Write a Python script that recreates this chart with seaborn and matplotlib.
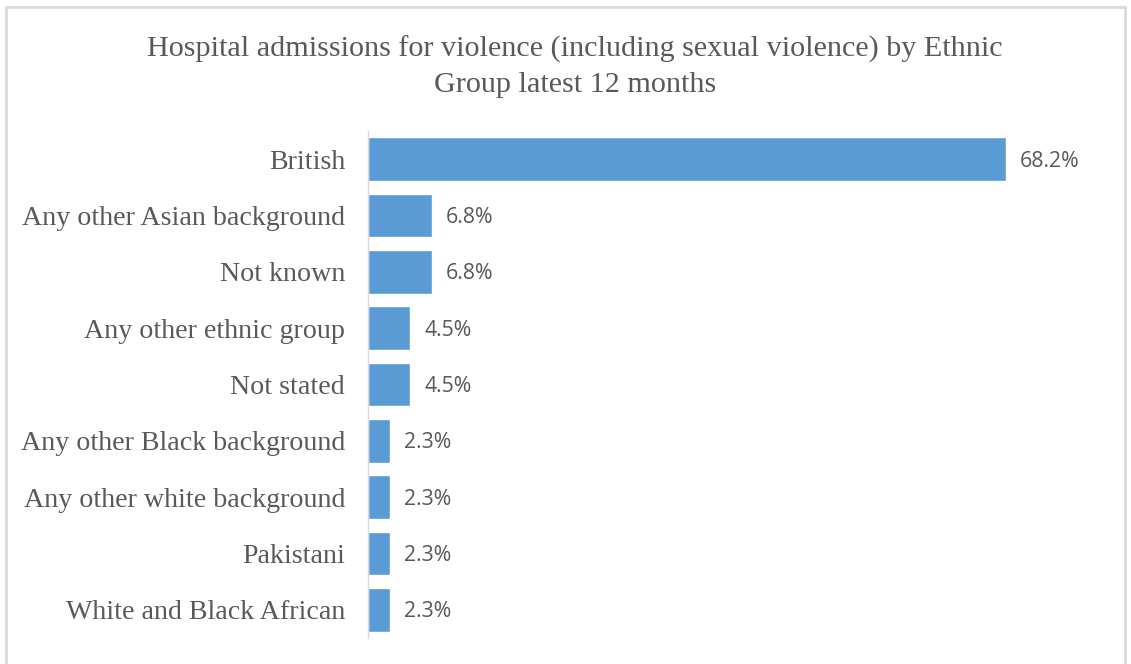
import pandas as pd
import matplotlib.pyplot as plt
import seaborn as sns
from matplotlib.patches import Rectangle

groups = ['British', 'Any other Asian background', 'Not known', 'Any other ethnic group',
          'Not stated', 'Any other Black background', 'Any other white background',
          'Pakistani', 'White and Black African']
pct = [68.2, 6.8, 6.8, 4.5, 4.5, 2.3, 2.3, 2.3, 2.3]

df = pd.DataFrame({'group': groups, 'pct': pct})

sns.set_style('white')
grey = '#595959'
blue = '#5B9BD5'

fig = plt.figure(figsize=(11.31, 6.64), dpi=100)
ax = fig.add_axes([368 / 1131, 1 - 638 / 664, 748 / 1131, 507 / 664])

sns.barplot(data=df, x='pct', y='group', orient='h', color=blue, width=0.78,
            saturation=1, ax=ax)

ax.set_xlim(0, 80)
ax.set_xlabel('')
ax.set_ylabel('')
ax.set_xticks([])
for s in ['top', 'right', 'bottom']:
    ax.spines[s].set_visible(False)
ax.spines['left'].set_color('#D9D9D9')
ax.spines['left'].set_linewidth(1)
ax.tick_params(axis='y', length=0, pad=16.5)
for lab in ax.get_yticklabels():
    lab.set_fontfamily('Liberation Serif')
    lab.set_fontsize(20.2)
    lab.set_color(grey)

for i, v in enumerate(pct):
    ax.annotate(f'{v:.1f}%', xy=(v, i), xytext=(14, -2), textcoords='offset pixels',
                va='center', ha='left', fontsize=15.3, color=grey, family='Open Sans')

fig.text(575 / 1131, 1 - 67 / 664,
         'Hospital admissions for violence (including sexual violence) by Ethnic\nGroup latest 12 months',
         ha='center', va='center', fontsize=21.7, color=grey, family='Liberation Serif',
         linespacing=1.45)

fig.patches.append(Rectangle((6 / 1131, -0.02), 1119 / 1131, 1 - 7 / 664 + 0.02,
                             transform=fig.transFigure, fill=False,
                             edgecolor='#D9D9D9', linewidth=2))

fig.savefig('out.png', dpi=100)
